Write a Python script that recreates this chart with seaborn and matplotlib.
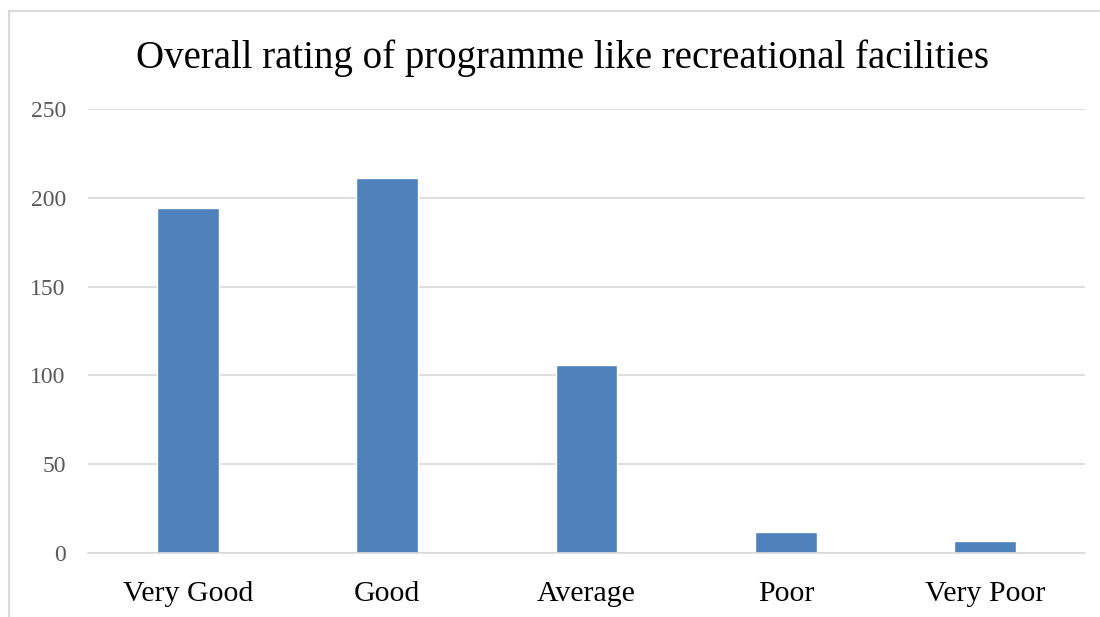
import matplotlib
matplotlib.use("Agg")
import matplotlib.pyplot as plt
import seaborn as sns
import pandas as pd
from matplotlib.patches import Rectangle

categories = ["Very Good", "Good", "Average", "Poor", "Very Poor"]
values = [194, 211, 106, 12, 7]
y_ticks = [0, 50, 100, 150, 200, 250]
title = "Overall rating of programme like recreational facilities"

sns.set_theme(style="white")
plt.rcParams['font.family'] = ['Liberation Serif', 'DejaVu Serif']

df = pd.DataFrame({"cat": categories, "val": values})

fig = plt.figure(figsize=(11, 6.17), dpi=100)
fig.patches.append(Rectangle((9/1100, -0.1), 1.2, 1 - 11/617 + 0.1, transform=fig.transFigure,
                             fill=False, edgecolor="#d9d9d9", linewidth=1.5))
ax = fig.add_axes([88/1100, 1 - 553/617, 997/1100, (553-109)/617])
sns.barplot(data=df, x="cat", y="val", color="#4F81BD", saturation=1, width=0.31, ax=ax)
ax.set_ylim(0, 250)
ax.set_xlim(-0.5, 4.5)
ax.set_yticks(y_ticks)
ax.set_yticklabels([str(t) for t in y_ticks])
ax.yaxis.grid(True, color="#d9d9d9", linewidth=1.2)
ax.set_axisbelow(True)
for s in ["top", "right", "left"]:
    ax.spines[s].set_visible(False)
ax.spines["bottom"].set_color("#d9d9d9")
ax.spines["bottom"].set_linewidth(1.2)
ax.tick_params(axis="y", length=0, labelsize=17, labelcolor="#595959", pad=16)
ax.tick_params(axis="x", length=0, labelsize=21.5, labelcolor="black", pad=20)
ax.set_xlabel("")
ax.set_ylabel("")
fig.text(562/1100, 1 - 58/617, title, ha="center", va="center", fontsize=28, color="black")
fig.savefig("out.png", dpi=100)
